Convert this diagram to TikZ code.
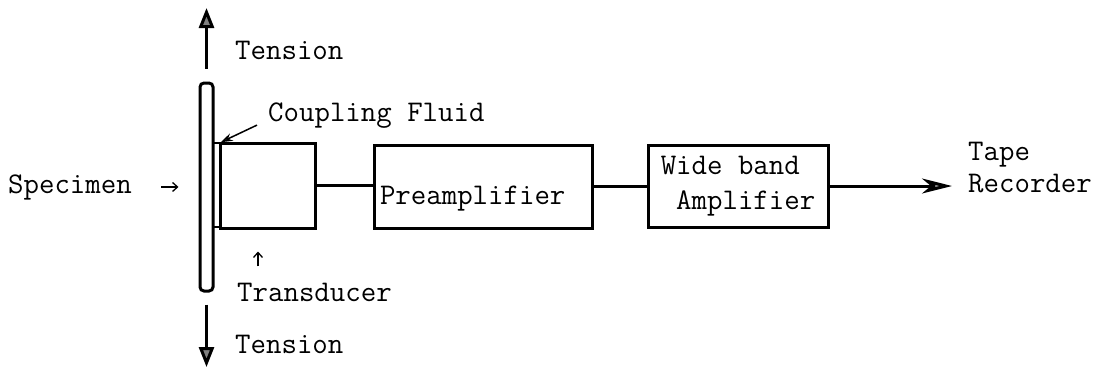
\documentclass[tikz,border=0pt]{standalone}
\usepackage{fontspec}
\usetikzlibrary{arrows.meta, positioning}

\begin{document}
\begin{tikzpicture}[
  x=1pt, y=-1pt,
  font=\ttfamily\fontsize{30}{33}\selectfont,
  box/.style={draw, line width=3pt, inner sep=0pt},
  lbl/.style={inner sep=0pt, anchor=base west},
  wire/.style={line width=3pt},
  pull/.style={line width=3pt, -{Triangle[length=20pt, width=15pt, fill=gray]}},
  outarr/.style={line width=3pt, -{Stealth[length=30pt, width=15pt, inset=9pt, fill=gray!70]}},
  ptr/.style={line width=1.3pt, -{Straight Barb[length=5pt, width=9pt]}},
  fluidarr/.style={line width=1.5pt, -{Stealth[length=12pt, width=8pt, fill=gray!50]}}
]
\useasboundingbox (0,0) rectangle (1103,368);

% specimen, coupling fluid and transducer
\node[box, rounded corners=4pt, minimum width=13pt, minimum height=208pt] (spec) at (206.5,187) {};
\node[box, line width=1.5pt, minimum width=7pt, minimum height=84pt] (fluid) at (216.5,185) {};
\node[box, minimum width=95pt, minimum height=85pt] (trans) at (268,185.5) {};

% amplifier chain
\node[box, minimum width=218pt, minimum height=83pt, text width=206pt, inner xsep=6pt,
      align=left, text height=35pt, text depth=0pt] (pre) at (483,186.5) {Preamplifier};
\node[box, minimum width=180pt, minimum height=82pt, align=left] (amp) at (738,186)
  {Wide band\\[2pt]\hphantom{x}Amplifier};

% labels
\node[lbl] (specimen) at (8,193) {Specimen};
\node[lbl] (coupling) at (268,121) {Coupling Fluid};
\node[lbl] (tlabel) at (237,301) {Transducer};
\node[lbl] (tenup) at (235,59) {Tension};
\node[lbl] (tendown) at (235,353) {Tension};
\node[inner sep=0pt, anchor=north west, align=left] (tape) at (968,142) {Tape\\[-1pt]Recorder};

\coordinate (uptip) at (0,8);
\coordinate (downtip) at (0,367);
\coordinate (tptr) at (258,0);

\draw[pull, shorten <=13pt] (spec.north) -- (spec.north |- uptip);
\draw[pull, shorten <=12pt] (spec.south) -- (spec.south |- downtip);
\draw[ptr, shorten <=29pt, shorten >=20pt] (specimen.east) -- (spec.west |- specimen.east);
\draw[ptr, shorten <=16pt, shorten >=22pt] (tptr |- tlabel.north) -- (tptr |- trans.south);
\draw[fluidarr] ([xshift=-11pt, yshift=-10pt]coupling.west) -- (fluid.north east);

\draw[wire] (trans.east) -- (pre.west |- trans.east);
\draw[wire] (pre.east) -- (amp.west |- pre.east);
\draw[outarr, shorten >=16pt] (amp.east) -- (tape.west |- amp.east);
\end{tikzpicture}
\end{document}
